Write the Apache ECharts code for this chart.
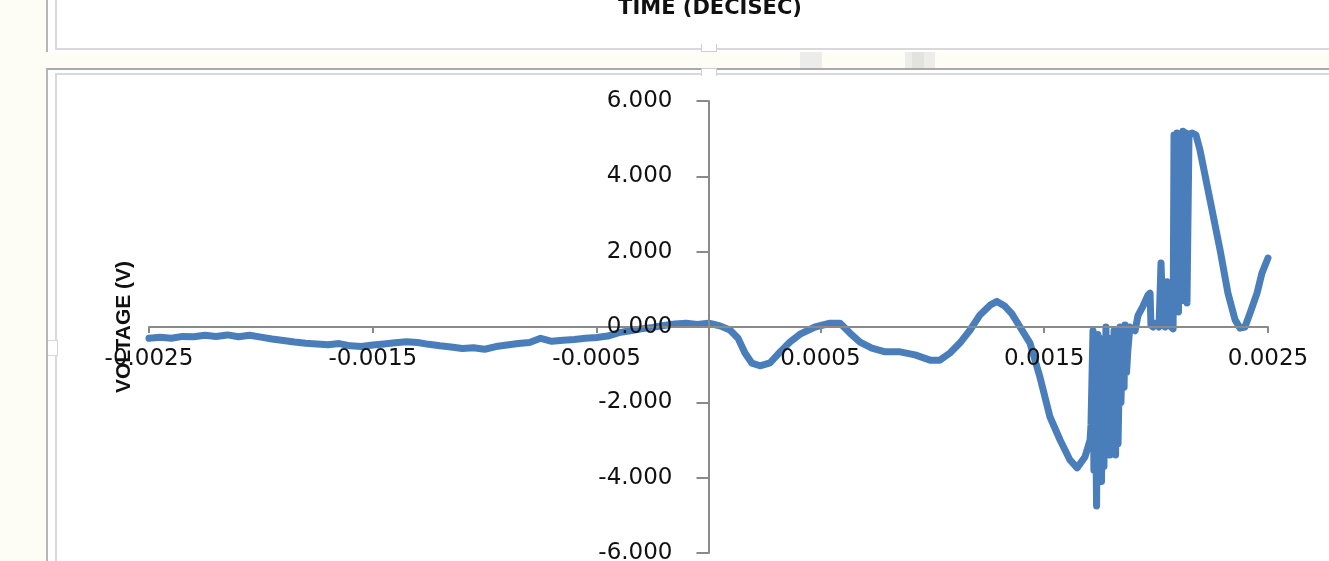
<!DOCTYPE html>
<html>
<head>
<meta charset="utf-8">
<script src="https://cdn.jsdelivr.net/npm/echarts@6/dist/echarts.min.js"></script>
<style>
  html, body { margin: 0; padding: 0; width: 1329px; height: 561px; overflow: hidden; background: #fdfdf6; }
  .abs { position: absolute; box-sizing: border-box; }
  #chart { position: absolute; left: 0; top: 0; width: 1329px; height: 561px; }
</style>
</head>
<body>
<div class="abs" style="left:46px;top:0;width:1290px;height:52px;background:#fff;border-left:2px solid #b6b6b6;"></div>
<div class="abs" style="left:55px;top:-6px;width:1290px;height:56px;border:2px solid #d9d9d9;"></div>
<div class="abs" style="left:46px;top:68px;width:1290px;height:500px;background:#fff;border-left:2px solid #b6b6b6;border-top:2px solid #a9a9a9;"></div>
<div class="abs" style="left:55px;top:73px;width:1290px;height:500px;border:2px solid #d9d9d9;"></div>
<div class="abs" style="left:800px;top:52px;width:22px;height:16px;background:#ececea;"></div>
<div class="abs" style="left:905px;top:52px;width:30px;height:16px;background:#ecece8;"></div>
<div class="abs" style="left:912px;top:52px;width:12px;height:16px;background:#e2e2de;"></div>
<div class="abs" style="left:701px;top:44px;width:16px;height:8px;background:#fff;border:1px solid #cfcfcf;border-top:none;"></div>
<div class="abs" style="left:701px;top:68px;width:16px;height:8px;background:#fff;border:1px solid #cfcfcf;border-bottom:none;"></div>
<div class="abs" style="left:48px;top:340px;width:10px;height:16px;background:#fff;border:1px solid #d6d6d6;border-left:none;"></div>
<div id="chart"></div>
<script>
// Time (s) and voltage (V)
const timeSec = [
  -0.0025, -0.00245, -0.0024, -0.00235, -0.0023, -0.00225, -0.0022, -0.00215, -0.0021, -0.00205,
  -0.002, -0.00195, -0.0019, -0.00185, -0.0018, -0.00175, -0.0017, -0.00165, -0.0016, -0.00155,
  -0.0015, -0.00145, -0.0014, -0.00135, -0.0013, -0.00125, -0.0012, -0.00115, -0.0011, -0.00105,
  -0.001, -0.00095, -0.0009, -0.00085, -0.0008, -0.00075, -0.0007, -0.00065, -0.0006, -0.00055,
  -0.0005, -0.00045, -0.0004, -0.00035, -0.0003, -0.00025, -0.0002, -0.00015, -0.0001, -0.00005, 0,
  0.000016, 0.000051, 0.000096, 0.000132, 0.000163, 0.000194, 0.00023, 0.000275, 0.00032, 0.000364,
  0.000409, 0.000476, 0.000543, 0.000588, 0.000632, 0.000677, 0.00073, 0.000789, 0.000856, 0.000923,
  0.00099, 0.001034, 0.001079, 0.001124, 0.001169, 0.001213, 0.001258, 0.001289, 0.001325, 0.001356,
  0.001392, 0.001436, 0.001481, 0.001526, 0.001571, 0.001615, 0.001647, 0.001682, 0.001705,
  0.001709, 0.001718, 0.001722, 0.001727, 0.001734, 0.00174, 0.001745, 0.001749, 0.001756, 0.001763,
  0.001767, 0.001776, 0.001781, 0.001787, 0.001794, 0.001798, 0.001805, 0.001812, 0.001819, 0.001825,
  0.00183, 0.001839, 0.001843, 0.00185, 0.001857, 0.001861, 0.001868, 0.001874, 0.001883, 0.001906,
  0.001919, 0.001941, 0.001964, 0.001973, 0.001977, 0.001986, 0.002, 0.002013, 0.002022, 0.002031,
  0.00204, 0.002049, 0.002058, 0.002067, 0.002076, 0.00208, 0.002087, 0.002093, 0.0021, 0.002107,
  0.002113, 0.00212, 0.002127, 0.002134, 0.002138, 0.002147, 0.00216, 0.002178, 0.002196, 0.002241,
  0.002286, 0.002321, 0.002353, 0.002375, 0.002397, 0.00242, 0.002451, 0.002473, 0.0025
];
const voltage = [
  -0.30, -0.27, -0.30, -0.25, -0.26, -0.22, -0.25, -0.21, -0.26, -0.22,
  -0.27, -0.32, -0.36, -0.40, -0.43, -0.45, -0.47, -0.44, -0.50, -0.52,
  -0.48, -0.45, -0.42, -0.39, -0.41, -0.46, -0.50, -0.53, -0.57, -0.55,
  -0.59, -0.52, -0.48, -0.44, -0.41, -0.30, -0.38, -0.35, -0.33, -0.30,
  -0.28, -0.24, -0.15, -0.10, -0.05, -0.01, 0.04, 0.08, 0.10, 0.07, 0.10,
  0.08, 0.03, -0.08, -0.30, -0.69, -0.96, -1.03, -0.95, -0.66, -0.40,
  -0.19, 0.00, 0.10, 0.10, -0.16, -0.40, -0.56, -0.66, -0.66, -0.74,
  -0.88, -0.88, -0.69, -0.42, -0.08, 0.32, 0.58, 0.68, 0.55, 0.35,
  0.00, -0.42, -1.33, -2.39, -3.00, -3.53, -3.74, -3.45, -3.00,
  -2.6, -0.1, -3.8, -0.5, -4.75, -0.2, -3.6, -0.3, -4.1, -0.6,
  -3.7, 0.0, -3.2, -1.0, -3.4, -0.3, -2.6, -0.1, -3.4, -0.8,
  -3.1, 0.0, -2.0, -0.4, -1.6, 0.05, -1.2, -0.6, 0.0, -0.1,
  0.3, 0.55, 0.85, 0.9, 0.05, 0.0, 0.1, 0.0, 1.7, 0.05,
  0.0, 1.2, 0.1, 0.0, -0.05, 5.1, 0.6, 5.15, 0.4, 5.1,
  0.7, 5.2, 1.5, 5.15, 0.64, 5.1, 5.15, 5.1, 4.7, 3.37,
  2.04, 0.9, 0.19, -0.03, 0.0, 0.37, 0.9, 1.43, 1.83
];
const xTickValues = [-0.0025, -0.0015, -0.0005, 0.0005, 0.0015, 0.0025];
const xTickLabels = ['-0.0025', '-0.0015', '-0.0005', '0.0005', '0.0015', '0.0025'];
const yTickLabels = ['-6.000', '-4.000', '-2.000', '0.000', '2.000', '4.000', '6.000'];
const xTitle = 'TIME (DECISEC)';
const yTitle = 'VOLTAGE (V)';

const X_MIN = -0.0025, X_MAX = 0.0025, Y_MIN = -6, Y_MAX = 6;
const seriesData = timeSec.map((t, i) => [t, voltage[i]]);
const chart = echarts.init(document.getElementById('chart'), null, { renderer: 'canvas' });
const grid = { left: 149, right: 61, top: 101, bottom: 8 };
const gridW = 1329 - grid.left - grid.right;
const gridH = 561 - grid.top - grid.bottom;
// axes cross at zero: shift axis lines (with their labels) from grid edges to the zero position
const yAxisOffset = -gridW * (0 - X_MIN) / (X_MAX - X_MIN);
const xAxisOffset = -gridH * (0 - Y_MIN) / (Y_MAX - Y_MIN);
const axisFont = { fontFamily: 'DejaVu Sans', fontSize: 23, color: '#111' };
chart.setOption({
  animation: false,
  backgroundColor: 'transparent',
  graphic: [{
    type: 'text', x: 710, y: -2,
    style: { text: xTitle, fontFamily: 'DejaVu Sans', fontWeight: 'bold', fontSize: 21, fill: '#111', textAlign: 'center', textVerticalAlign: 'top' }
  }],
  grid: Object.assign({ containLabel: false, outerBoundsMode: 'none' }, grid),
  xAxis: {
    type: 'value', min: X_MIN, max: X_MAX, z: 5, position: 'bottom', offset: xAxisOffset,
    axisLine: { onZero: false, lineStyle: { color: '#8a8a8a', width: 2 } },
    axisTick: { show: true, inside: false, length: 6, customValues: xTickValues, lineStyle: { color: '#8a8a8a', width: 2 } },
    axisLabel: Object.assign({ margin: 21, customValues: xTickValues,
      formatter: v => { const i = xTickValues.findIndex(x => Math.abs(x - v) < 1e-9); return i >= 0 ? xTickLabels[i] : ''; } }, axisFont),
    splitLine: { show: false }
  },
  yAxis: {
    type: 'value', min: Y_MIN, max: Y_MAX, interval: 2, z: 5, position: 'left', offset: yAxisOffset,
    name: yTitle, nameLocation: 'middle', nameGap: 574, nameRotate: 90,
    nameTextStyle: { fontFamily: 'Liberation Sans', fontWeight: 'bold', fontSize: 21, color: '#111' },
    axisLine: { onZero: false, lineStyle: { color: '#8a8a8a', width: 2 } },
    axisTick: { show: true, inside: false, length: 12, lineStyle: { color: '#8a8a8a', width: 2 } },
    axisLabel: Object.assign({ margin: 36, formatter: v => yTickLabels[Math.round((v - Y_MIN) / 2)] }, axisFont),
    splitLine: { show: false }
  },
  series: [{
    type: 'line', data: seriesData, showSymbol: false, symbol: 'none', smooth: false,
    lineStyle: { color: '#4a7ebb', width: 7, join: 'round', cap: 'round' },
    z: 2
  }]
});
</script>
</body>
</html>
